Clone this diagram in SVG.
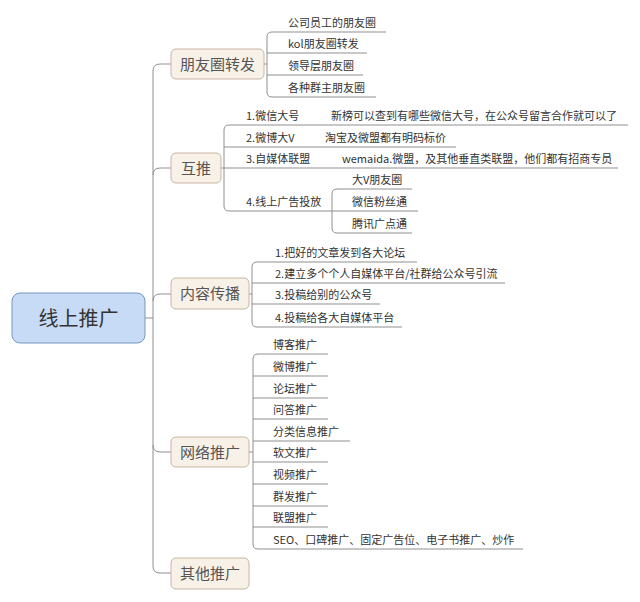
<svg xmlns="http://www.w3.org/2000/svg" width="640" height="602" viewBox="0 0 640 602">
<style>
.c{fill:none;stroke:#8f8f8f;stroke-width:1}
.t{font-family:"Noto Sans CJK SC","Noto Sans",sans-serif;font-size:11px;fill:#333}
.l1 rect{fill:#f8f1e8;stroke:#c6b6a2;stroke-width:1}
.l1 text{font-family:"Noto Sans CJK SC",sans-serif;font-size:15px;fill:#555;text-anchor:middle}
</style>
<rect width="640" height="602" fill="#fff"/>
<g id="connectors">
<path class="c" d="M145 318H153V71Q153 64 160 64H171"/>
<path class="c" d="M153 175Q153 168 160 168H171"/>
<path class="c" d="M153 301Q153 294 160 294H171"/>
<path class="c" d="M153 445Q153 452 160 452H171"/>
<path class="c" d="M153 318V566Q153 573 160 573H171"/>
<!-- 朋友圈转发 -->
<path class="c" d="M264 64H267"/>
<path class="c" d="M386 32H272Q267 32 267 37V92Q267 97 272 97H376"/>
<path class="c" d="M267 53H367M267 75H363"/>
<!-- 互推 -->
<path class="c" d="M221 168H224"/>
<path class="c" d="M628 125H229Q224 125 224 130V206Q224 211 229 211H418"/>
<path class="c" d="M224 147H456M224 168H618"/>
<path class="c" d="M412 189H337Q332 189 332 194V228Q332 233 337 233H412"/>
<!-- 内容传播 -->
<path class="c" d="M249 294H252"/>
<path class="c" d="M417 262H257Q252 262 252 267V322Q252 327 257 327H402"/>
<path class="c" d="M252 283H505M252 304H380"/>
<!-- 网络推广 -->
<path class="c" d="M249 452H253"/>
<path class="c" d="M328 354H258Q253 354 253 359V544Q253 549 258 549H523"/>
<path class="c" d="M253 376H328M253 398H328M253 419H328M253 441H350M253 462H328M253 484H328M253 506H328M253 527H328"/>
</g>
<g id="root">
<rect x="12" y="293" width="133" height="50" rx="8" fill="#c7dbf6" stroke="#7597c2" stroke-width="1"/>
<text x="78.5" y="326" font-family="'Noto Sans CJK SC',sans-serif" font-size="20" fill="#333" text-anchor="middle">线上推广</text>
</g>
<g id="n-pyq" class="l1"><rect x="171" y="49" width="93" height="30" rx="5"/><text x="217.5" y="69.5">朋友圈转发</text></g>
<g id="n-hutui" class="l1"><rect x="171" y="153" width="50" height="30" rx="5"/><text x="196" y="173.5">互推</text></g>
<g id="n-nrcb" class="l1"><rect x="171" y="278" width="78" height="31" rx="5"/><text x="210" y="299">内容传播</text></g>
<g id="n-wltg" class="l1"><rect x="171" y="437" width="78" height="30" rx="5"/><text x="210" y="457.5">网络推广</text></g>
<g id="n-qttg" class="l1"><rect x="171" y="558" width="78" height="31" rx="5"/><text x="210" y="578.5">其他推广</text></g>
<g id="pyq-items">
<text class="t" x="288" y="27">公司员工的朋友圈</text>
<text class="t" x="288" y="48">kol朋友圈转发</text>
<text class="t" x="288" y="70">领导层朋友圈</text>
<text class="t" x="288" y="92">各种群主朋友圈</text>
</g>
<g id="hutui-items">
<text class="t" x="246" y="120">1.微信大号</text>
<text class="t" x="331" y="120">新榜可以查到有哪些微信大号，在公众号留言合作就可以了</text>
<text class="t" x="246" y="142">2.微博大V</text>
<text class="t" x="325" y="142">淘宝及微盟都有明码标价</text>
<text class="t" x="246" y="163">3.自媒体联盟</text>
<text class="t" x="342" y="163">wemaida.微盟，及其他垂直类联盟，他们都有招商专员</text>
<text class="t" x="246" y="206">4.线上广告投放</text>
<text class="t" x="352" y="184">大V朋友圈</text>
<text class="t" x="352" y="206">微信粉丝通</text>
<text class="t" x="352" y="228">腾讯广点通</text>
</g>
<g id="nrcb-items">
<text class="t" x="275" y="257">1.把好的文章发到各大论坛</text>
<text class="t" x="275" y="278">2.建立多个个人自媒体平台/社群给公众号引流</text>
<text class="t" x="275" y="299">3.投稿给别的公众号</text>
<text class="t" x="275" y="322">4.投稿给各大自媒体平台</text>
</g>
<g id="wltg-items">
<text class="t" x="273" y="349">博客推广</text>
<text class="t" x="273" y="371">微博推广</text>
<text class="t" x="273" y="393">论坛推广</text>
<text class="t" x="273" y="414">问答推广</text>
<text class="t" x="273" y="436">分类信息推广</text>
<text class="t" x="273" y="457">软文推广</text>
<text class="t" x="273" y="479">视频推广</text>
<text class="t" x="273" y="501">群发推广</text>
<text class="t" x="273" y="522">联盟推广</text>
<text class="t" x="273" y="544">SEO、口碑推广、固定广告位、电子书推广、炒作</text>
</g>
</svg>
